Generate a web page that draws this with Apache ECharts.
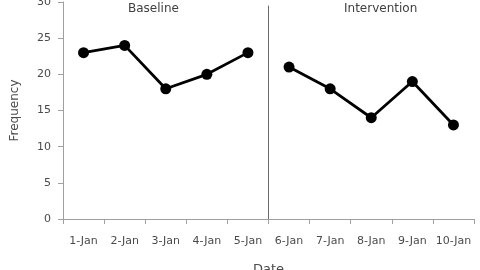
<!DOCTYPE html>
<html><head><meta charset="utf-8">
<script src="https://cdn.jsdelivr.net/npm/echarts@6/dist/echarts.min.js"></script>
<style>html,body{margin:0;padding:0;background:#fff}#c{width:480px;height:270px}</style>
</head><body><div id="c"></div>
<script>
const categories = ['1-Jan','2-Jan','3-Jan','4-Jan','5-Jan','6-Jan','7-Jan','8-Jan','9-Jan','10-Jan'];
const baseline = [23, 24, 18, 20, 23, null, null, null, null, null];
const intervention = [null, null, null, null, null, 21, 18, 14, 19, 13];
const phaseLabels = ['Baseline', 'Intervention'];
const phaseChange = 5; // phase boundary, in category units
const yTicks = [0, 5, 10, 15, 20, 25, 30];

const chart = echarts.init(document.getElementById('c'));
const font = 'DejaVu Sans';
chart.setOption({
  animation: false,
  textStyle: { fontFamily: font },
  grid: { left: 63, right: 6, top: 2, bottom: 51, containLabel: false, outerBoundsMode: 'none' },
  xAxis: [{
    type: 'category', data: categories, boundaryGap: true,
    name: 'Date', nameLocation: 'middle', nameGap: 44,
    nameTextStyle: { fontFamily: font, fontSize: 13, color: '#4a4a4a' },
    axisLine: { lineStyle: { color: '#a0a0a0' } },
    axisTick: { show: true, length: 5, lineStyle: { color: '#a0a0a0' } },
    axisLabel: { fontFamily: font, fontSize: 11, color: '#4a4a4a', margin: 17, interval: 0 },
    splitLine: { show: false }
  }, {
    type: 'value', min: 0, max: categories.length, show: false
  }],
  yAxis: {
    type: 'value', min: yTicks[0], max: yTicks[yTicks.length - 1], interval: 5,
    name: 'Frequency', nameLocation: 'middle', nameGap: 42, nameRotate: 90,
    nameTextStyle: { fontFamily: font, fontSize: 12, color: '#4a4a4a' },
    axisLine: { show: true, lineStyle: { color: '#a0a0a0' } },
    axisTick: { show: true, length: 5, lineStyle: { color: '#a0a0a0' } },
    axisLabel: { fontFamily: font, fontSize: 11, color: '#4a4a4a', margin: 12 },
    splitLine: { show: false }
  },
  series: [{
    type: 'line', data: baseline, symbol: 'circle', symbolSize: 11,
    lineStyle: { color: '#000', width: 2.8 }, itemStyle: { color: '#000' }, connectNulls: false
  }, {
    type: 'line', data: intervention, symbol: 'circle', symbolSize: 11,
    lineStyle: { color: '#000', width: 2.8 }, itemStyle: { color: '#000' }, connectNulls: false
  }, {
    type: 'line', xAxisIndex: 1, data: [[phaseChange, 0], [phaseChange, 29.5]],
    symbol: 'none', lineStyle: { color: '#6a6a6a', width: 1 }, silent: true
  }],
  graphic: [
    { type: 'text', left: 128, top: 3, style: { text: phaseLabels[0], font: '12px "DejaVu Sans"', fill: '#404040' } },
    { type: 'text', left: 344, top: 3, style: { text: phaseLabels[1], font: '12px "DejaVu Sans"', fill: '#404040' } }
  ]
});
</script></body></html>
